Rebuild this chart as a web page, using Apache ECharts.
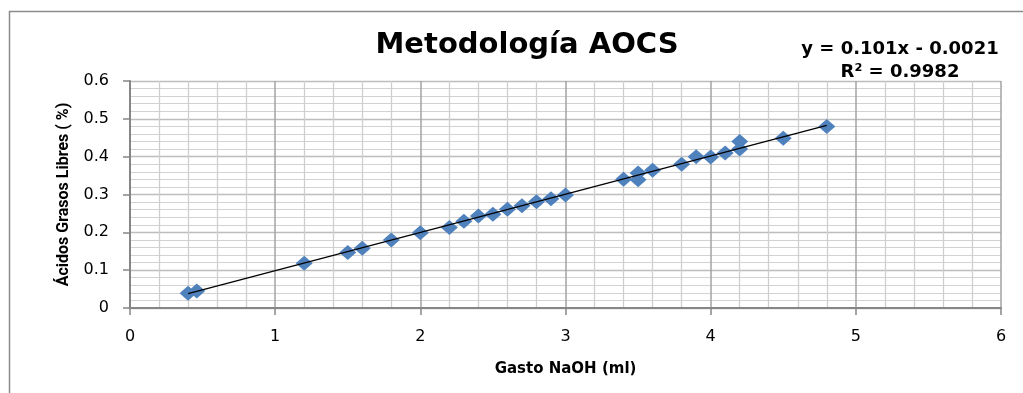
<!DOCTYPE html>
<html>
<head>
<meta charset="utf-8">
<title>Metodología AOCS</title>
<script src="https://cdn.jsdelivr.net/npm/echarts@6/dist/echarts.min.js"></script>
<style>
  html, body { margin: 0; padding: 0; background: #fff; }
  #main { width: 1023px; height: 393px; }
</style>
</head>
<body>
<div id="main"></div>
<script>
// Gasto NaOH (ml) vs Ácidos Grasos Libres (%)
var gastoNaOH = [0.4, 0.46, 1.2, 1.5, 1.6, 1.8, 2.0, 2.2, 2.3, 2.4, 2.5, 2.6, 2.7, 2.8, 2.9, 3.0,
                 3.4, 3.5, 3.5, 3.6, 3.8, 3.9, 4.0, 4.1, 4.2, 4.2, 4.5, 4.8];
var acidos    = [0.039, 0.045, 0.118, 0.147, 0.158, 0.18, 0.199, 0.213, 0.229, 0.243, 0.248, 0.261, 0.27, 0.281, 0.289, 0.299,
                 0.34, 0.339, 0.357, 0.364, 0.38, 0.4, 0.399, 0.41, 0.42, 0.44, 0.449, 0.48];
// linea de tendencia (Excel): y = 0.101x - 0.0021
var pendiente = 0.101;
var intercepto = -0.0021;
var trendX = [0.4, 4.8];
var xTicks = ['0', '1', '2', '3', '4', '5', '6'];
var yTicks = ['0', '0.1', '0.2', '0.3', '0.4', '0.5', '0.6'];

var puntos = [];
for (var i = 0; i < gastoNaOH.length; i++) {
	puntos.push([gastoNaOH[i], acidos[i]]);
}
var tendencia = [];
for (var j = 0; j < trendX.length; j++) {
	tendencia.push([trendX[j], pendiente * trendX[j] + intercepto]);
}

var chart = echarts.init(document.getElementById('main'));
chart.setOption({
	animation: false,
	backgroundColor: '#fff',
	title: {
		text: 'Metodología AOCS',
		left: 522,
		top: 26,
		textAlign: 'center',
		textStyle: {
			fontFamily: 'DejaVu Sans',
			fontWeight: 'bold',
			fontSize: 29,
			color: '#000'
		}
	},
	graphic: [
		{
			type: 'rect',
			silent: true,
			shape: { x: 9.5, y: 11.5, width: 1100, height: 450 },
			style: { fill: 'none', stroke: '#8c8c8c', lineWidth: 1.5 }
		},
		{
			type: 'text',
			x: 900,
			y: 40,
			style: {
				text: 'y = 0.101x - 0.0021',
				font: 'bold 18px "DejaVu Sans"',
				fill: '#000',
				align: 'center'
			}
		},
		{
			type: 'text',
			x: 900,
			y: 63,
			style: {
				text: 'R² = 0.9982',
				font: 'bold 18px "DejaVu Sans"',
				fill: '#000',
				align: 'center'
			}
		}
	],
	grid: {
		left: 130,
		right: 22,
		top: 81,
		bottom: 85
	},
	xAxis: {
		type: 'value',
		min: 0,
		max: 6,
		interval: 1,
		name: 'Gasto NaOH (ml)',
		nameLocation: 'middle',
		nameGap: 54,
		nameTextStyle: {
			fontFamily: 'DejaVu Sans',
			fontWeight: 'bold',
			fontSize: 15,
			color: '#000'
		},
		axisLine: { show: true, onZero: false, lineStyle: { color: '#868686', width: 2 } },
		axisTick: { show: true, inside: false, length: 7, lineStyle: { color: '#868686', width: 1.5 } },
		axisLabel: {
			margin: 21,
			fontFamily: 'DejaVu Sans',
			fontSize: 16,
			color: '#000',
			formatter: function (v) { return xTicks[Math.round(v)]; }
		},
		splitLine: { show: true, lineStyle: { color: '#a3a3a3', width: 1.5 } },
		minorTick: { show: false, splitNumber: 5 },
		minorSplitLine: { show: true, lineStyle: { color: '#cfcfcf', width: 1.3 } }
	},
	yAxis: {
		type: 'value',
		min: 0,
		max: 0.6,
		interval: 0.1,
		name: 'Ácidos Grasos Libres ( %)',
		nameLocation: 'middle',
		nameGap: 58,
		nameTextStyle: {
			fontFamily: 'Liberation Sans Narrow, Roboto',
			fontWeight: 'bold',
			fontSize: 16,
			color: '#000'
		},
		axisLine: { show: true, onZero: false, lineStyle: { color: '#868686', width: 2 } },
		axisTick: { show: true, inside: false, length: 7, lineStyle: { color: '#868686', width: 1.5 } },
		axisLabel: {
			margin: 21,
			fontFamily: 'DejaVu Sans',
			fontSize: 16,
			color: '#000',
			formatter: function (v) { return yTicks[Math.round(v * 10)]; }
		},
		splitLine: { show: true, lineStyle: { color: '#bdbdbd', width: 1.3 } },
		minorTick: { show: false, splitNumber: 5 },
		minorSplitLine: { show: true, lineStyle: { color: '#d2d2d2', width: 1.2 } }
	},
	series: [
		{
			name: 'tendencia',
			type: 'line',
			data: tendencia,
			symbol: 'none',
			lineStyle: { color: '#000', width: 1.3 },
			z: 3
		},
		{
			name: 'datos',
			type: 'scatter',
			data: puntos,
			symbol: 'diamond',
			symbolSize: [17, 15],
			itemStyle: { color: '#4f81bd', opacity: 1 },
			z: 2
		}
	]
});
</script>
</body>
</html>
